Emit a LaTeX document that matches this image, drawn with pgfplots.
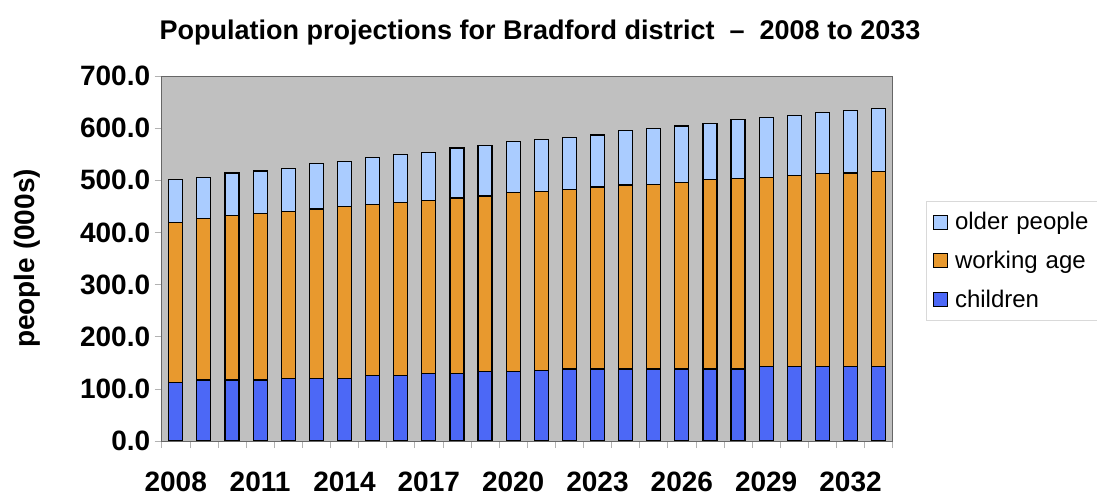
\documentclass[border=0pt]{standalone}
\usepackage{pgfplots}
\usepackage{pgfplotstable}
\pgfplotsset{compat=1.18}
\usepackage{fontspec}
\setmainfont{Liberation Sans}
\definecolor{cOld}{RGB}{170,204,255}
\definecolor{cWork}{RGB}{232,153,46}
\definecolor{cChild}{RGB}{76,104,246}
\definecolor{cBg}{RGB}{192,192,192}
\pgfplotstableread{
idx children working older
0 112 307 82
1 117 310 79
2 117 315 82
3 117 319 82
4 120 320 83
5 120 325 87
6 120 329 87
7 125 328 91
8 125 333 91
9 130 331 92
10 130 336 96
11 134 336 96
12 134 342 98
13 135 344 99
14 138 345 99
15 138 349 100
16 138 353 104
17 138 354 108
18 138 357 109
19 138 363 108
20 138 366 113
21 143 362 116
22 143 366 116
23 143 370 117
24 143 371 120
25 143 374 121
}\datatable
\begin{document}
\begin{tikzpicture}
\useasboundingbox (0,0) rectangle (1097bp,495bp);
\begin{axis}[
  at={(161.7bp,54bp)}, anchor=south west,
  scale only axis, width=731bp, height=365bp,
  ybar stacked, bar width=14bp,
  xmin=-0.5, xmax=25.5, ymin=0, ymax=700,
  axis background/.style={fill=cBg},
  axis line style={draw=gray!80!black, line width=0.8bp},
  xtick={0,3,...,24},
  xticklabels={2008,2011,2014,2017,2020,2023,2026,2029,2032},
  major x tick style={draw=none},
  minor xtick={-0.5,0.5,...,25.5},
  minor x tick style={draw=gray!60, line width=0.6bp},
  minor tick length=7bp,
  ytick={0,100,...,700},
  y tick style={draw=gray!60, line width=0.6bp},
  major tick length=7bp,
  tick align=outside,
  tick pos=left,
  /pgf/number format/assume math mode=true,
  yticklabel={\pgfmathprintnumber[fixed,fixed zerofill,precision=1]{\tick}},
  ticklabel style={font=\fontsize{28bp}{32bp}\selectfont\bfseries},
  xticklabel style={anchor=base, yshift=-43bp},
  yticklabel style={xshift=-1bp},
  ylabel={people (000s)},
  ylabel style={font=\fontsize{28bp}{32bp}\selectfont\bfseries, at={(rel axis cs:-0.184,0.5)}, anchor=center, rotate=0},
  title={Population projections for Bradford district \ --\ \ 2008 to 2033},
  title style={font=\fontsize{27bp}{31bp}\selectfont\bfseries, at={(rel axis cs:0.5175,1.104)}, anchor=center},
  reverse legend,
  legend style={at={(rel axis cs:1.0456,0.6565)}, anchor=north west,
    draw=gray!30, fill=white, font=\fontsize{24bp}{27bp}\selectfont,
    row sep=16bp, column sep=5bp, inner xsep=7bp, inner ysep=9bp, text width=170bp},
  legend cell align=left,
]
\addplot[fill=cChild, draw=black, line width=1.2bp,
  legend image code/.code={\draw[fill=cChild,draw=black,line width=0.8bp] (0bp,-7bp) rectangle (14bp,7bp);}]
  table[x=idx, y=children]{\datatable};
\addplot[fill=cWork, draw=black, line width=1.2bp,
  legend image code/.code={\draw[fill=cWork,draw=black,line width=0.8bp] (0bp,-7bp) rectangle (14bp,7bp);}]
  table[x=idx, y=working]{\datatable};
\addplot[fill=cOld, draw=black, line width=1.2bp,
  legend image code/.code={\draw[fill=cOld,draw=black,line width=0.8bp] (0bp,-7bp) rectangle (14bp,7bp);}]
  table[x=idx, y=older]{\datatable};
\legend{children, working age, older people}
\end{axis}
\end{tikzpicture}
\end{document}
